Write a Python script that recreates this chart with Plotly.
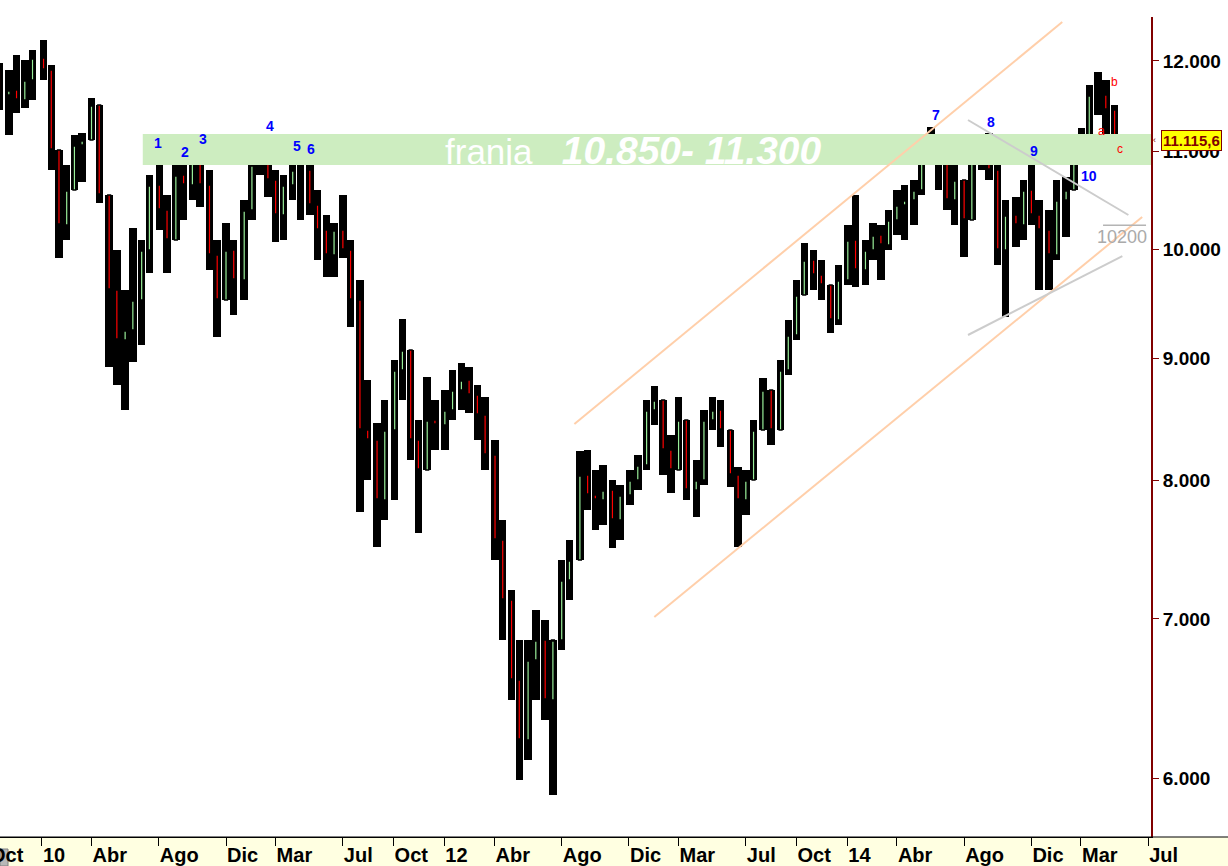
import math
import plotly.graph_objects as go

# ---------------- data (half-monthly OHLC) ----------------
dates = [
    "2009-10-16", "2009-11-02", "2009-11-16", "2009-12-01", "2009-12-15",
    "2010-01-04", "2010-01-18", "2010-02-01", "2010-02-15", "2010-03-01", "2010-03-15",
    "2010-04-01", "2010-04-15", "2010-05-03", "2010-05-17", "2010-06-01", "2010-06-15",
    "2010-07-01", "2010-07-15", "2010-08-02", "2010-08-16", "2010-09-01", "2010-09-15",
    "2010-10-01", "2010-10-15", "2010-11-01", "2010-11-15", "2010-12-01", "2010-12-15",
    "2011-01-03", "2011-01-17", "2011-02-01", "2011-02-15", "2011-03-01", "2011-03-15",
    "2011-04-01", "2011-04-15", "2011-05-02", "2011-05-16", "2011-06-01", "2011-06-15",
    "2011-07-01", "2011-07-15", "2011-08-01", "2011-08-15", "2011-09-01", "2011-09-15",
    "2011-10-03", "2011-10-17", "2011-11-01", "2011-11-15", "2011-12-01", "2011-12-15",
    "2012-01-02", "2012-01-16", "2012-02-01", "2012-02-15", "2012-03-01", "2012-03-15",
    "2012-04-02", "2012-04-16", "2012-05-02", "2012-05-16", "2012-06-01", "2012-06-15",
    "2012-07-02", "2012-07-16", "2012-08-01", "2012-08-15", "2012-09-03", "2012-09-17",
    "2012-10-01", "2012-10-15", "2012-11-01", "2012-11-15", "2012-12-03", "2012-12-17",
    "2013-01-02", "2013-01-16", "2013-02-01", "2013-02-15", "2013-03-01", "2013-03-15",
    "2013-04-02", "2013-04-16", "2013-05-02", "2013-05-16", "2013-06-03", "2013-06-17",
    "2013-07-01", "2013-07-15", "2013-08-01", "2013-08-16", "2013-09-02", "2013-09-16",
    "2013-10-01", "2013-10-15", "2013-11-01", "2013-11-15", "2013-12-02", "2013-12-16",
    "2014-01-02", "2014-01-16", "2014-02-03", "2014-02-17", "2014-03-03", "2014-03-17",
    "2014-04-01", "2014-04-15", "2014-05-02", "2014-05-16", "2014-06-02", "2014-06-16",
    "2014-07-01", "2014-07-15", "2014-08-01", "2014-08-15", "2014-09-01", "2014-09-15",
    "2014-10-01", "2014-10-15", "2014-11-03", "2014-11-17", "2014-12-01", "2014-12-15",
    "2015-01-02", "2015-01-16", "2015-02-02", "2015-02-16", "2015-03-02", "2015-03-16",
    "2015-04-01", "2015-04-15", "2015-05-01",
]

opens = [
    11900, 11612, 11668, 11556, 11782,
    12035, 11896, 11011, 10242, 10594,
    11065, 11118, 11500, 10543, 9618,
    9165, 9254, 9526, 9997, 10645,
    10391, 10094, 10748, 10645, 10905,
    10645, 9949, 9526, 9997, 9712,
    10391, 10853, 11011, 10697, 10341,
    10645, 10801, 10801, 10441, 10192,
    9949, 10192, 9997, 9526, 8401,
    8321, 7852, 8401, 8903, 9077,
    8321, 8083, 8483, 8442, 8565,
    8732, 8817, 8690, 8524, 8201,
    7554, 7129, 6598, 6227, 6727,
    6859, 6472, 6859, 7268, 7410,
    8044, 7890, 7852, 7928, 7702,
    7890, 8005, 8122, 8565, 8648,
    8241, 8083, 8483, 7928, 8005,
    8483, 8565, 8401, 8044, 7852,
    8005, 8401, 8732, 8401, 8903,
    9209, 9572, 9901, 9759, 9665,
    9343, 9712, 10094, 9806, 9997,
    10143, 10046, 10291, 10441, 10492,
    10594, 10958, 11118, 10905, 10492,
    10697, 10291, 10905, 11065, 10801,
    9997, 10341, 10242, 10594, 10341,
    10192, 9949, 10492, 10594, 11065,
    11118, 11612, 11612, 11445,
]

highs = [
    11977, 11896, 12070, 12012, 12128,
    12246, 11954, 11011, 10853, 11172,
    11194, 11579, 11500, 10543, 9997,
    9618, 10212, 10094, 10748, 10958,
    10543, 10905, 10905, 11022, 11011,
    10801, 10094, 10261, 10094, 10492,
    10937, 11172, 11065, 10801, 10748,
    10979, 10937, 10905, 10594, 10341,
    10261, 10543, 10094, 9712, 8817,
    8458, 8648, 8989, 9352, 9077,
    8483, 8843, 8648, 8732, 8903,
    8963, 8929, 8775, 8674, 8321,
    7702, 7198, 6859, 6859, 7060,
    6992, 6859, 7410, 7554, 8233,
    8241, 8083, 8122, 8005, 7967,
    8083, 8201, 8648, 8766, 8648,
    8361, 8674, 8483, 8161, 8565,
    8674, 8648, 8401, 8106, 8083,
    8483, 8834, 8732, 8989, 9343,
    9712, 10065, 9997, 9901, 9665,
    9853, 10242, 10543, 10094, 10261,
    10242, 10391, 10594, 10645, 10697,
    11011, 11259, 11172, 11118, 10853,
    10697, 11011, 11172, 11194, 10853,
    10492, 10523, 10697, 10926, 10492,
    10391, 10697, 10728, 11172, 11248,
    11725, 11873, 11782, 11500,
]

lows = [
    11445, 11172, 11412, 11467, 11556,
    11782, 10801, 9920, 10094, 10594,
    10676, 11118, 10462, 8929, 8775,
    8565, 8972, 9120, 9777, 10192,
    9777, 10094, 10291, 10492, 10421,
    9806, 9191, 9526, 9389, 9526,
    10291, 10748, 10523, 10075, 10094,
    10492, 10291, 10341, 9901, 9740,
    9740, 9920, 9281, 7762, 8005,
    7503, 7702, 7852, 8648, 8161,
    7605, 8083, 8241, 8241, 8483,
    8565, 8540, 8321, 8083, 7410,
    6859, 6472, 5991, 6108, 6472,
    6348, 5904, 6793, 7129, 7410,
    7777, 7628, 7665, 7496, 7554,
    7814, 7928, 8083, 8442, 8044,
    7905, 8083, 7852, 7724, 7967,
    8401, 8265, 7951, 7503, 7739,
    8005, 8401, 8281, 8401, 8860,
    9165, 9572, 9618, 9526, 9227,
    9298, 9665, 9646, 9665, 9901,
    9712, 9997, 10143, 10094, 10242,
    10543, 10853, 10594, 10391, 10242,
    9930, 10291, 10801, 10697, 9853,
    9370, 10026, 10094, 10242, 9618,
    9618, 9901, 10124, 10594, 10853,
    11011, 11390, 11172, 11108,
]

closes = [
    11612, 11668, 11556, 11782, 12035,
    11896, 11011, 10242, 10594, 11065,
    11118, 11500, 10543, 9618, 9165,
    9254, 9526, 9997, 10645, 10391,
    10094, 10748, 10645, 10905, 10645,
    9949, 9526, 9997, 9712, 10391,
    10853, 11011, 10697, 10341, 10645,
    10801, 10801, 10441, 10192, 9949,
    10192, 9997, 9526, 8401, 8321,
    7852, 8401, 8903, 9077, 8321,
    8083, 8483, 8442, 8565, 8732,
    8817, 8690, 8524, 8201, 7554,
    7129, 6598, 6227, 6727, 6859,
    6472, 6859, 7268, 7410, 8044,
    7890, 7852, 7928, 7702, 7890,
    8005, 8122, 8565, 8648, 8241,
    8083, 8483, 7928, 8005, 8483,
    8565, 8401, 8044, 7852, 8005,
    8401, 8732, 8401, 8903, 9209,
    9572, 9901, 9759, 9665, 9343,
    9712, 10094, 9806, 9997, 10143,
    10046, 10291, 10441, 10492, 10594,
    10958, 11118, 10905, 10492, 10697,
    10291, 10905, 11065, 10801, 9997,
    10341, 10242, 10594, 10341, 10192,
    9949, 10492, 10594, 11065, 11118,
    11612, 11612, 11445, 11115.6,
]

last_price_text = "11.115,6"

# x-axis ticks (month starts) and labels
x_tick_dates = ["2010-01-01", "2010-04-01", "2010-08-01", "2010-12-01", "2011-03-01",
                "2011-07-01", "2011-10-01", "2012-01-01", "2012-04-01", "2012-08-01",
                "2012-12-01", "2013-03-01", "2013-07-01", "2013-10-01", "2014-01-01",
                "2014-04-01", "2014-08-01", "2014-12-01", "2015-03-01", "2015-07-01"]
x_tick_text = ["10", "Abr", "Ago", "Dic", "Mar", "Jul", "Oct", "12", "Abr", "Ago",
               "Dic", "Mar", "Jul", "Oct", "14", "Abr", "Ago", "Dic", "Mar", "Jul"]

y_tick_vals = [6000, 7000, 8000, 9000, 10000, 11000, 12000]
y_tick_text = ["6.000", "7.000", "8.000", "9.000", "10.000", "11.000", "12.000"]

# support / resistance band
band_dates = ["2010-07-03", "2015-07-06"]
band_low = 10853
band_high = 11183
band_text_date = "2012-12-09"
band_text_value = 11011

# trend lines (start, end)
upper_channel_dates = ["2012-08-24", "2015-01-26"]
upper_channel_values = [8450, 12461]
lower_channel_dates = ["2013-01-16", "2015-06-20"]
lower_channel_values = [7013, 10321]
gray_upper_dates = ["2014-08-08", "2015-05-26"]
gray_upper_values = [11335, 10341]
gray_lower_dates = ["2014-08-08", "2015-05-15"]
gray_lower_values = [9209, 9939]
level_dates = ["2015-04-10", "2015-06-27"]
level_values = [10240, 10240]
level_text_date = "2015-05-15"
level_text_value = 10124

# wave counts
wave_labels = ["1", "2", "3", "4", "5", "6", "7", "8", "9", "10"]
wave_dates = ["2010-07-30", "2010-09-17", "2010-10-20", "2011-02-18", "2011-04-08",
              "2011-05-05", "2014-06-11", "2014-09-19", "2014-12-06", "2015-03-16"]
wave_values = [11086, 10990, 11129, 11270, 11054, 11022, 11390, 11313, 11001, 10738]

abc_labels = ["a", "b", "c"]
abc_dates = ["2015-04-07", "2015-04-30", "2015-05-11"]
abc_values = [11216, 11759, 11022]

# ---------------- figure ----------------
fig = go.Figure()

# band
fig.add_trace(go.Scatter(
    x=[band_dates[0], band_dates[1], band_dates[1], band_dates[0], band_dates[0]],
    y=[band_low, band_low, band_high, band_high, band_low],
    fill="toself", fillcolor="#CDEDC0", mode="lines", line=dict(width=0),
    hoverinfo="skip", showlegend=False))

# dense black trading range behind the candles (high-low of each period)
period_ms = 13.5 * 86400000
fig.add_trace(go.Bar(
    x=dates, y=[h - l for h, l in zip(highs, lows)], base=lows,
    width=period_ms, marker=dict(color="black", line=dict(width=0)),
    hoverinfo="skip", showlegend=False))

# candles
fig.add_trace(go.Candlestick(
    x=dates, open=opens, high=highs, low=lows, close=closes,
    increasing=dict(line=dict(color="black", width=1.5), fillcolor="#99EE99"),
    decreasing=dict(line=dict(color="black", width=1.5), fillcolor="#FF0000"),
    whiskerwidth=0, showlegend=False, hoverinfo="skip"))

peach = "#FFCFAA"
grey = "#CCCCCC"
for xs, ys, col in [(upper_channel_dates, upper_channel_values, peach),
                    (lower_channel_dates, lower_channel_values, peach),
                    (gray_upper_dates, gray_upper_values, grey),
                    (gray_lower_dates, gray_lower_values, grey)]:
    fig.add_trace(go.Scatter(x=xs, y=ys, mode="lines", line=dict(color=col, width=2),
                             hoverinfo="skip", showlegend=False))
fig.add_trace(go.Scatter(x=level_dates, y=level_values, mode="lines",
                         line=dict(color="#B4B4B4", width=1.5),
                         hoverinfo="skip", showlegend=False))

ann = []
for t, d, v in zip(wave_labels, wave_dates, wave_values):
    ann.append(dict(x=d, y=math.log10(v), xref="x", yref="y", text=t, showarrow=False,
                    font=dict(family="Liberation Sans", size=14, color="#0000FF", weight="bold")))
for t, d, v in zip(abc_labels, abc_dates, abc_values):
    ann.append(dict(x=d, y=math.log10(v), xref="x", yref="y", text=t, showarrow=False,
                    font=dict(family="Liberation Sans", size=12, color="#FF0000")))

ann.append(dict(x=band_text_date, y=math.log10(band_text_value), xref="x", yref="y",
                text=("franja&nbsp;&nbsp; <span style='font-size:39px'>"
                      "<b><i>10.850- 11.300</i></b></span>"),
                showarrow=False,
                font=dict(family="Liberation Sans", size=35, color="white")))
ann.append(dict(x=level_text_date, y=math.log10(level_text_value), xref="x", yref="y",
                text="10200", showarrow=False,
                font=dict(family="Liberation Sans", size=18, color="#AAAAAA")))

# last price tag
ann.append(dict(x=1161 / 1151, y=math.log10(closes[-1]), xref="paper", yref="y",
                xanchor="left", text="<b>" + last_price_text + "</b>", showarrow=False,
                bgcolor="#FFFF00", bordercolor="#800000", borderwidth=1, borderpad=1,
                font=dict(family="Liberation Sans", size=15, color="#800000")))
ann.append(dict(x=1154 / 1151, y=math.log10(closes[-1]), xref="paper", yref="y",
                xanchor="center", text="‹", showarrow=False,
                font=dict(family="Liberation Sans", size=9, color="#800000")))
# partially hidden first month label
ann.append(dict(x=0, y=-0.022, xref="paper", yref="paper", xanchor="left", yanchor="middle",
                xshift=-12, text="Oct", showarrow=False,
                font=dict(family="Liberation Sans", size=20, color="black", weight="bold")))

shapes = [
    dict(type="rect", xref="paper", yref="paper", x0=0, x1=1228 / 1151, y0=-29 / 820, y1=0,
         fillcolor="#FFFFE1", line=dict(width=0), layer="below"),
    dict(type="line", xref="paper", yref="paper", x0=0, x1=1228 / 1151, y0=0, y1=0,
         line=dict(color="black", width=1)),
    dict(type="rect", xref="paper", yref="paper", x0=0, x1=8 / 1151, y0=-29 / 820,
         y1=-12 / 820, fillcolor="#B8B8B8", line=dict(color="#808080", width=1)),
]

fig.update_layout(
    width=1228, height=866,
    margin=dict(l=0, r=77, t=17, b=29),
    paper_bgcolor="white", plot_bgcolor="white",
    showlegend=False, hovermode=False,
    boxgap=0.5, bargap=0,
    annotations=ann, shapes=shapes,
    xaxis=dict(type="date", range=["2009-10-17", "2015-07-06"],
               rangeslider=dict(visible=False),
               tickmode="array", tickvals=x_tick_dates, ticktext=x_tick_text,
               ticks="outside", ticklen=8, tickcolor="black", tickwidth=1,
               ticklabelposition="outside right",
               tickfont=dict(family="Liberation Sans", size=20, color="black", weight="bold"),
               showline=True, linecolor="black", linewidth=1,
               showgrid=False, zeroline=False),
    yaxis=dict(type="log", side="right", range=[3.75357, 4.09764],
               tickmode="array", tickvals=y_tick_vals, ticktext=y_tick_text,
               ticks="outside", ticklen=6, tickcolor="#800000", tickwidth=1,
               tickfont=dict(family="Liberation Sans", size=19, color="black", weight="bold"),
               showline=True, linecolor="#800000", linewidth=2,
               showgrid=False, zeroline=False),
)

fig.write_html("out.html", config={"displayModeBar": False},
               post_script="document.body.style.margin='0';document.body.style.overflow='hidden';")
